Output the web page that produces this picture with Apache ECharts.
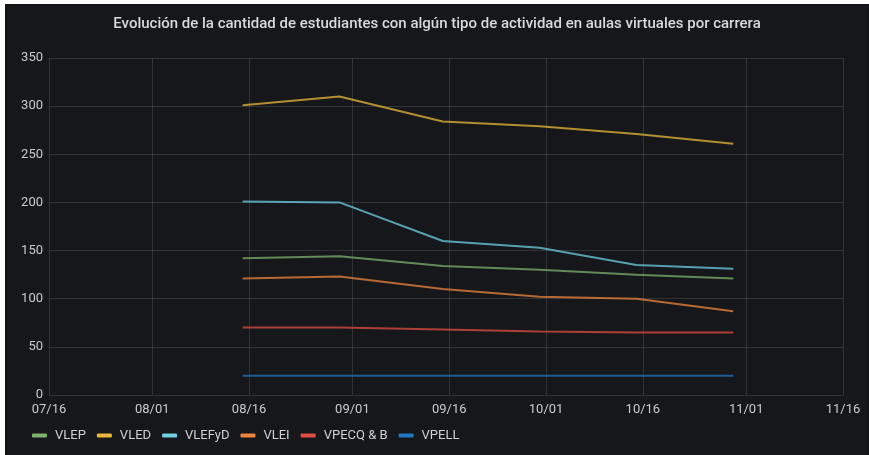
<!DOCTYPE html>
<html>
<head>
<meta charset="utf-8">
<script src="https://cdn.jsdelivr.net/npm/echarts@6/dist/echarts.min.js"></script>
<style>
  html, body { margin: 0; padding: 0; background: #ffffff; }
  #frame { position: absolute; left: 5px; top: 4px; width: 864px; height: 451px; background: #111215; }
  #chart { position: absolute; left: 2px; top: 2px; width: 860px; height: 449px; background: #16171b; border-radius: 3px; }
</style>
</head>
<body>
<div id="frame"><div id="chart"></div></div>
<script>
var dates = ['2020-08-15', '2020-08-30', '2020-09-15', '2020-09-30', '2020-10-15', '2020-10-30'];
var tickDates = ['2020-07-16', '2020-08-01', '2020-08-16', '2020-09-01', '2020-09-16', '2020-10-01', '2020-10-16', '2020-11-01', '2020-11-16'];

var names = ['VLEP', 'VLED', 'VLEFyD', 'VLEI', 'VPECQ & B', 'VPELL'];
var colors = ['#7EB26D', '#EAB839', '#6ED0E0', '#EF843C', '#E24D42', '#1F78C1'];

var vlep = [142, 144, 134, 130, 125, 121];
var vled = [301, 310, 284, 279, 271, 261];
var vlefyd = [201, 200, 160, 153, 135, 131];
var vlei = [121, 123, 110, 102, 100, 87];
var vpecq = [70, 70, 68, 66, 65, 65];
var vpell = [20, 20, 20, 20, 20, 20];

var values = [vlep, vled, vlefyd, vlei, vpecq, vpell];

function ts(d) { return Date.UTC(+d.slice(0, 4), +d.slice(5, 7) - 1, +d.slice(8, 10)); }
var ticks = tickDates.map(ts);

var series = names.map(function (n, i) {
  return {
    name: n,
    type: 'line',
    symbol: 'none',
    color: colors[i],
    lineStyle: { width: 2, opacity: 0.75 },
    data: dates.map(function (d, j) { return [ts(d), values[i][j]]; })
  };
});

var myChart = echarts.init(document.getElementById('chart'));
var option = {
  backgroundColor: '#16171b',
  animation: false,
  title: {
    text: 'Evolución de la cantidad de estudiantes con algún tipo de actividad en aulas virtuales por carrera',
    left: 'center',
    top: 6,
    textStyle: { color: '#d8d9da', fontSize: 15, fontWeight: 500, fontFamily: 'Roboto' }
  },
  legend: {
    bottom: 8,
    left: 20,
    icon: 'roundRect',
    itemWidth: 15,
    itemHeight: 4,
    itemGap: 11,
    textStyle: { color: '#d0d0d0', fontSize: 13, fontFamily: 'Roboto', padding: [0, 0, 0, 3] },
    data: names
  },
  grid: { left: 42, right: 24, top: 52, bottom: 60 },
  xAxis: {
    type: 'value',
    min: ticks[0],
    max: ticks[ticks.length - 1],
    axisLine: { show: false },
    axisTick: { show: false, customValues: ticks },
    axisLabel: {
      color: '#c7cbd0', fontSize: 13, fontFamily: 'Roboto', margin: 8,
      customValues: ticks,
      formatter: function (v) {
        var d = new Date(v);
        return ('0' + (d.getUTCMonth() + 1)).slice(-2) + '/' + ('0' + d.getUTCDate()).slice(-2);
      }
    },
    splitLine: { show: true, lineStyle: { color: 'rgba(255,255,255,0.12)' } }
  },
  yAxis: {
    type: 'value',
    min: 0,
    max: 350,
    interval: 50,
    axisLine: { show: false },
    axisTick: { show: false },
    axisLabel: { color: '#c7cbd0', fontSize: 13, fontFamily: 'Roboto', margin: 6 },
    splitLine: { lineStyle: { color: 'rgba(255,255,255,0.12)' } }
  },
  series: series
};
myChart.setOption(option);
</script>
</body>
</html>
